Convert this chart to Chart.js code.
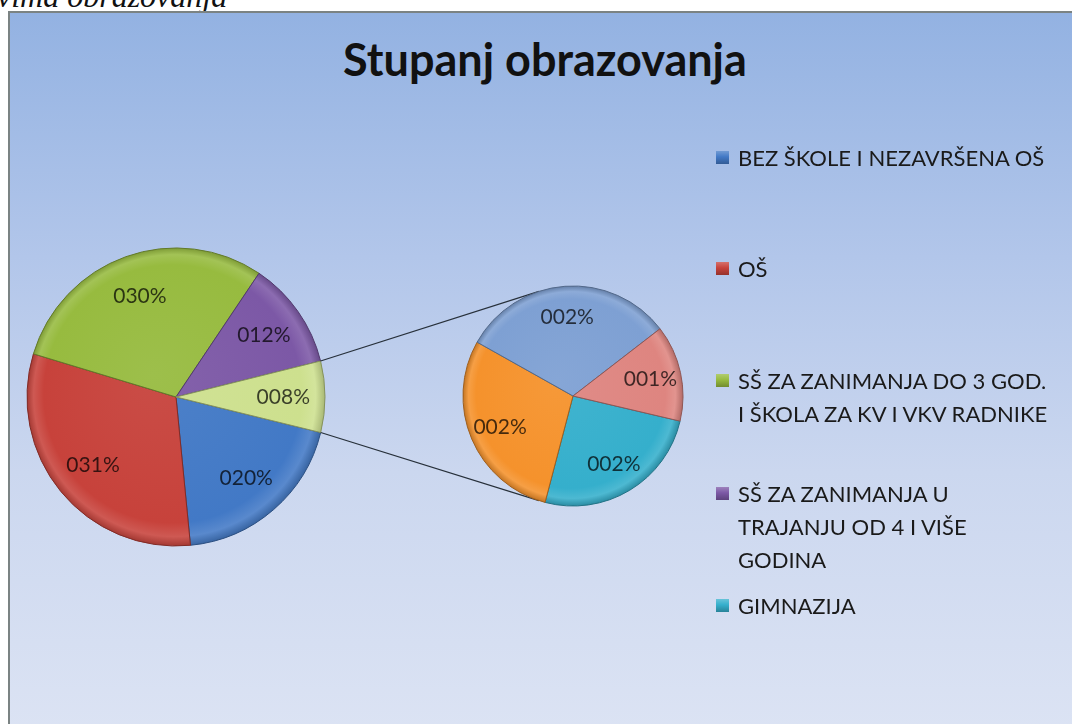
<!DOCTYPE html>
<html>
<head>
<meta charset="utf-8">
<script src="https://cdn.jsdelivr.net/npm/chart.js@4.4.0/dist/chart.umd.min.js"></script>
<style>
  html, body { margin:0; padding:0; width:1072px; height:724px; overflow:hidden; background:#fff; }
  #caption { position:absolute; left:-3px; top:-19px; font:italic 32px "Liberation Serif", serif; line-height:30px; white-space:nowrap; color:#111; }
  #frame {
    position:absolute; left:8px; top:11px; width:1100px; height:740px;
    border-left:2px solid #7b8383; border-top:2px solid #7b8383;
    background:linear-gradient(to bottom, #93b2e2 0%, #b2c6ea 33%, #cbd7ef 62%, #dde4f4 100%);
  }
  #title { position:absolute; left:0; top:37px; width:1090px; text-align:center; font:bold 45px Lato, sans-serif; line-height:44px; color:#111; }
  #main { position:absolute; left:10px; top:13px; width:1062px; height:711px; }
  #sub  { position:absolute; left:453px; top:276px; width:240px; height:240px; }
  .item { position:absolute; left:716px; font:22px Lato, sans-serif; line-height:33px; color:#1a1a1a; white-space:nowrap; }
  .item .box { position:absolute; left:0; top:10px; width:13px; height:13px; }
  .item .txt { margin-left:22px; }
</style>
</head>
<body>
<div id="caption">vima obrazovanja</div>
<div id="frame"></div>
<div id="title">Stupanj obrazovanja</div>
<div id="main"><canvas id="mainChart"></canvas></div>
<div id="sub"><canvas id="subChart"></canvas></div>
<div id="legend"></div>
<script>
// kategorije (legenda) - zadnje tri nisu vidljive u legendi
const categories = [
  ['BEZ ŠKOLE I NEZAVRŠENA OŠ'],
  ['OŠ'],
  ['SŠ ZA ZANIMANJA DO 3 GOD.', 'I ŠKOLA ZA KV I VKV RADNIKE'],
  ['SŠ ZA ZANIMANJA U', 'TRAJANJU OD 4 I VIŠE', 'GODINA'],
  ['GIMNAZIJA'],
  ['VIŠA ŠKOLA'],
  ['VISOKA ŠKOLA'],
  ['MAGISTERIJ I DOKTORAT']
];
const legendCount = 5;
const otherLabel = 'Ostalo';

// postoci
const mainValues = [19.6, 31.2, 29.7, 11.7];
const subValues = [1.96, 2.24, 2.42, 1.09];

const mainColors = ['#4279c6', '#c7423b', '#97bb3f', '#7c58a6', '#cde08e'];
const subColors = ['#35afcc', '#f5922c', '#7ea0d3', '#de8580'];

const legendCenters = [157, 268, 380, 493, 605];

function shade(hex, amt) {
  const n = parseInt(hex.slice(1), 16);
  let r = n >> 16, g = (n >> 8) & 255, b = n & 255;
  const f = v => Math.max(0, Math.min(255, Math.round(amt > 0 ? v + (255 - v) * amt : v * (1 + amt))));
  return 'rgb(' + f(r) + ',' + f(g) + ',' + f(b) + ')';
}

function bevel(colors) {
  return function(c) {
    const base = colors[c.dataIndex];
    const ca = c.chart.chartArea;
    if (!ca) return base;
    const x = (ca.left + ca.right) / 2, y = (ca.top + ca.bottom) / 2;
    const r = Math.min(ca.right - ca.left, ca.bottom - ca.top) / 2;
    const g = c.chart.ctx.createRadialGradient(x - r * 0.15, y - r * 0.15, 0, x, y, r);
    g.addColorStop(0, shade(base, 0.06));
    g.addColorStop(0.86, base);
    g.addColorStop(0.94, shade(base, 0.12));
    g.addColorStop(1, shade(base, -0.2));
    return g;
  };
}

function fmt(v) {
  return String(Math.round(v)).padStart(3, '0') + '%';
}

const pctLabels = {
  id: 'pctLabels',
  afterDatasetsDraw(chart) {
    const meta = chart.getDatasetMeta(0);
    const data = chart.data.datasets[0].data;
    const ctx = chart.ctx;
    ctx.save();
    ctx.font = '21px Lato, sans-serif';
    ctx.textAlign = 'center';
    ctx.textBaseline = 'middle';
    ctx.fillStyle = 'rgba(0,0,0,0.72)';
    meta.data.forEach((arc, i) => {
      const mid = (arc.startAngle + arc.endAngle) / 2;
      const d = arc.outerRadius * 0.72;
      ctx.fillText(fmt(data[i]), arc.x + d * Math.cos(mid), arc.y + d * Math.sin(mid));
    });
    ctx.restore();
  }
};

let subChart;

const connector = {
  id: 'connector',
  afterDatasetsDraw(chart) {
    if (!subChart) return;
    const arc = chart.getDatasetMeta(0).data[mainValues.length];
    const sArc = subChart.getDatasetMeta(0).data[0];
    const a = chart.canvas.getBoundingClientRect();
    const b = subChart.canvas.getBoundingClientRect();
    const cx = sArc.x + b.left - a.left, cy = sArc.y + b.top - a.top, r = sArc.outerRadius;
    const R = arc.outerRadius;
    const t = 108 * Math.PI / 180;
    const ctx = chart.ctx;
    ctx.save();
    ctx.strokeStyle = '#27303a';
    ctx.lineWidth = 1.2;
    ctx.beginPath();
    ctx.moveTo(arc.x + R * Math.cos(arc.startAngle), arc.y + R * Math.sin(arc.startAngle));
    ctx.lineTo(cx + r * Math.cos(-t), cy + r * Math.sin(-t));
    ctx.moveTo(arc.x + R * Math.cos(arc.endAngle), arc.y + R * Math.sin(arc.endAngle));
    ctx.lineTo(cx + r * Math.cos(t), cy + r * Math.sin(t));
    ctx.stroke();
    ctx.restore();
  }
};

const otherTotal = subValues.reduce((s, v) => s + v, 0);

subChart = new Chart(document.getElementById('subChart'), {
  type: 'pie',
  data: {
    labels: categories.slice(4).map(l => l.join(' ')),
    datasets: [{
      data: subValues,
      backgroundColor: bevel(subColors),
      borderColor: subColors.map(c => shade(c, -0.35)),
      borderWidth: 1
    }]
  },
  options: {
    responsive: true,
    maintainAspectRatio: false,
    animation: false,
    rotation: 103.2,
    radius: 110,
    layout: { padding: 10 },
    plugins: { legend: { display: false }, tooltip: { enabled: false } }
  },
  plugins: [pctLabels]
});

new Chart(document.getElementById('mainChart'), {
  type: 'pie',
  data: {
    labels: categories.slice(0, 4).map(l => l.join(' ')).concat([otherLabel]),
    datasets: [{
      data: mainValues.concat([otherTotal]),
      backgroundColor: bevel(mainColors),
      borderColor: mainColors.map(c => shade(c, -0.35)),
      borderWidth: 1
    }]
  },
  options: {
    responsive: true,
    maintainAspectRatio: false,
    animation: false,
    rotation: 103.8,
    radius: 149,
    layout: { padding: { left: 16, right: 746, top: 234, bottom: 177 } },
    plugins: { legend: { display: false }, tooltip: { enabled: false } }
  },
  plugins: [pctLabels, connector]
});

// legenda
const legend = document.getElementById('legend');
categories.slice(0, legendCount).forEach((lines, i) => {
  const item = document.createElement('div');
  item.className = 'item';
  item.style.top = (legendCenters[i] - 16.5) + 'px';
  const col = i < 4 ? mainColors[i] : subColors[0];
  const box = document.createElement('div');
  box.className = 'box';
  box.style.background = 'linear-gradient(to bottom, ' + shade(col, 0.25) + ', ' + col + ' 45%, ' + shade(col, -0.25) + ')';
  item.appendChild(box);
  const txt = document.createElement('div');
  txt.className = 'txt';
  txt.innerHTML = lines.join('<br>');
  item.appendChild(txt);
  legend.appendChild(item);
});
</script>
</body>
</html>
